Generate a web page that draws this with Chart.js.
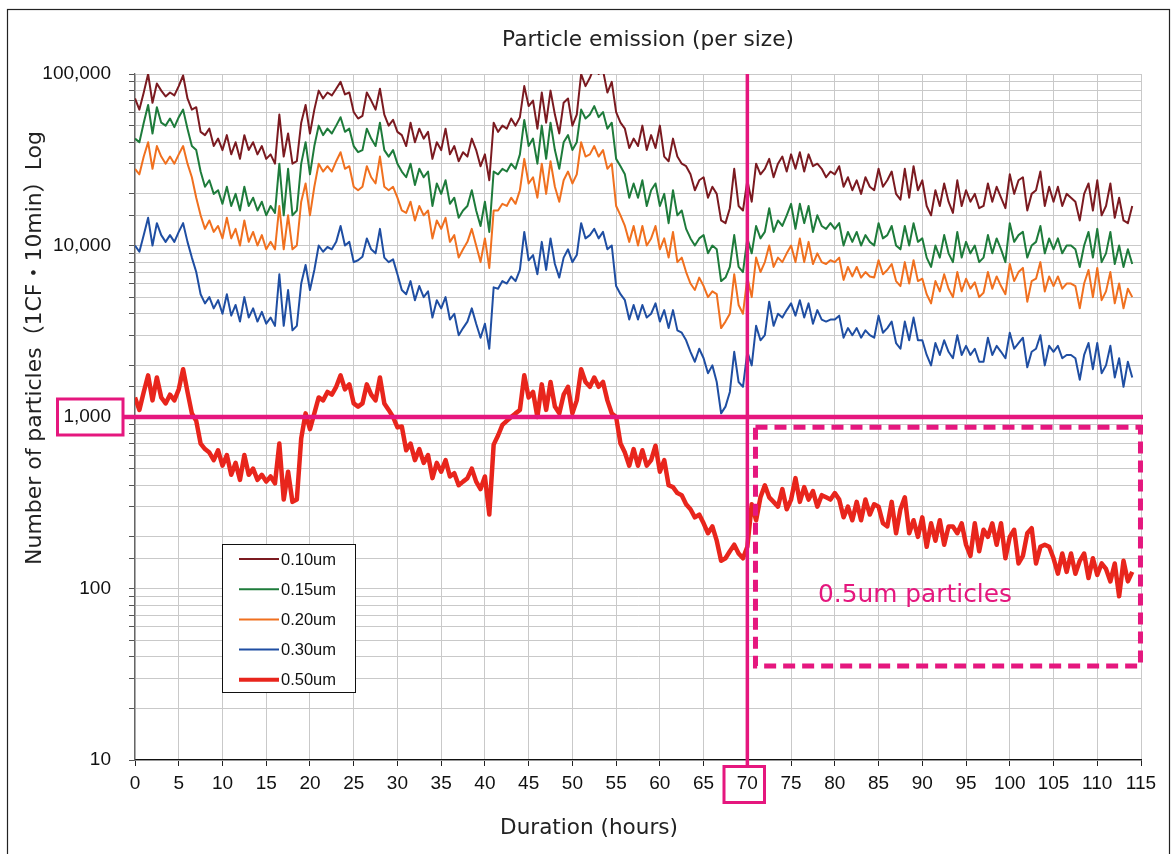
<!DOCTYPE html>
<html>
<head>
<meta charset="utf-8">
<script src="https://cdn.jsdelivr.net/npm/chart.js@4.4.1/dist/chart.umd.min.js"></script>
<style>
html,body{margin:0;padding:0;background:#fff;}
canvas{display:block;}
</style>
</head>
<body>
<canvas id="c" width="1174" height="854"></canvas>
<script>
// ---------------- data ----------------
const STEP_HOURS = 0.5; // sampling interval of the series below (hours)
const seriesLabels = ['0.10um', '0.15um', '0.20um', '0.30um', '0.50um'];
const xTickStep = 5;
const xMax = 115;
const yMin = 10, yMax = 100000;
const yTickLabels = {10: '10', 100: '100', 1000: '1,000', 10000: '10,000', 100000: '100,000'};
const REF_LEVEL = 1000;   // horizontal marker
const REF_HOUR = 70;      // vertical marker

const p010 = [
72000,62000,78000,100000,68000,88000,80000,74000,78000,75000,
85000,98000,72000,62000,64000,46000,44000,48000,38000,42000,
36000,44000,34000,40000,32000,44000,36000,40000,34000,38000,
32000,34000,30000,58000,33000,45000,30000,31000,52000,66000,
45000,62000,80000,72000,78000,75000,82000,90000,76000,78000,
60000,55000,57000,78000,70000,62000,82000,58000,50000,54000,
46000,44000,38000,52000,40000,48000,42000,46000,32000,40000,
36000,48000,34000,38000,31000,35000,33000,42000,36000,29000,
34000,24000,52000,46000,50000,48000,55000,50000,56000,85000,
65000,70000,48000,78000,52000,80000,58000,45000,68000,72000,
50000,58000,100000,85000,95000,110000,100000,105000,78000,90000,
60000,52000,48000,37000,42000,38000,50000,36000,44000,37000,
50000,33000,31000,42000,33000,30000,29000,26000,21000,24000,
25000,19000,22000,20000,14000,13500,16500,28000,17000,16000,
24000,18000,30000,26000,28000,32000,25000,30000,33000,27000,
34000,28000,35000,27000,34000,29000,30000,28000,25000,27000,
26000,29000,22000,25000,21000,24000,20000,25000,22000,21000,
28000,22000,24000,27000,20000,18500,28000,19000,29000,21000,
24000,17000,15000,21000,17000,23000,18000,15500,24000,17000,
21000,18000,20000,16500,17000,23000,18000,22000,19000,16500,
26000,20000,24000,25000,16000,20000,21000,27000,17000,22000,
18000,22000,17000,20000,19000,18000,14000,20000,23000,16000,
24000,15000,17000,23000,14500,19000,14000,13500,17000
];
const p015 = [
42000,40000,52000,66000,45000,64000,52000,50000,55000,49000,
56000,62000,48000,38000,36000,27000,22000,24000,20000,21000,
17500,22000,17000,20000,16000,22000,17000,19000,16000,18000,
15000,17000,15500,30000,15000,28000,15000,16000,30000,40000,
26000,38000,50000,44000,48000,45000,50000,56000,46000,48000,
38000,35000,36000,48000,42000,38000,52000,36000,33000,36000,
30000,27000,25000,30000,22500,28000,25000,27000,17000,23000,
20000,24000,17500,19000,14500,16000,17000,21000,16000,13000,
18000,12000,27000,26000,28000,27000,30000,28000,34000,54000,
38000,42000,30000,50000,32000,52000,36000,28000,40000,44000,
36000,40000,62000,55000,58000,65000,56000,60000,48000,52000,
32000,29000,26000,19000,23000,19000,24000,17000,21000,23000,
17000,20000,13500,21000,15000,16000,12500,11000,10000,11000,
11500,9000,10000,9500,6200,6500,7500,11500,7500,7000,
11000,9000,13000,11000,12000,16500,12000,14000,13000,15000,
17500,12500,17500,13500,17000,12000,15000,13000,12500,13500,
12500,13500,10000,12000,10500,12000,10000,11500,10500,10000,
13500,11000,11500,13000,10000,9500,13000,10000,13500,10500,
11000,8500,7500,10000,8500,11500,9000,8000,12000,8500,
10500,9000,10000,8000,8500,11500,9000,11000,9500,8000,
13500,10500,11500,12000,8500,10000,10500,13000,9000,11000,
9500,11000,9000,10000,10000,9500,7500,10000,12000,8500,
12500,8000,9000,12000,7800,10000,7500,9500,7800
];
const p020 = [
28000,26000,33000,40000,28000,38000,33000,30000,33000,30000,
34000,38000,30000,25000,19000,15000,12500,14000,12000,13000,
11000,14500,11000,12500,10000,14000,10500,12000,10000,11500,
9500,10500,9500,17000,9500,15000,9500,10000,18000,23000,
15000,22000,30000,27000,29000,27000,31000,35000,28000,29000,
22000,21000,22000,29000,25000,23000,33000,22000,21000,22000,
19000,16000,15500,18000,14000,17000,15000,16000,11000,14000,
12500,14500,10500,11500,8500,9500,10500,12500,10000,8000,
11000,7400,16000,16000,17500,17000,19000,17500,21000,32000,
23000,25000,19000,30000,20000,31000,22000,18000,24000,27000,
23000,26000,40000,33000,34000,38000,33000,36000,28000,30000,
17000,15000,13000,10500,13000,10000,13000,10000,11000,13000,
9500,11000,8500,12000,8000,8500,7000,6000,5500,6500,
5800,5000,5400,5200,3300,3600,4000,6800,4500,4000,
6500,5000,8500,7000,8000,10000,7500,8500,8000,9000,
10000,8000,11000,8000,10500,7800,9000,8000,7800,8200,
8000,8500,6300,7500,6600,7500,6500,7000,6600,6500,
8200,6800,7200,7800,6200,5800,8000,6000,8200,6200,
6400,5200,4600,6200,5400,6800,5600,5000,7000,5400,
6400,5600,6100,5000,5300,7000,5600,6600,5800,5200,
7800,6200,7000,7400,4700,6200,6400,8000,5400,6600,
5800,6600,5600,6000,6000,5800,4300,6000,7200,5000,
7400,4800,5400,7000,4600,6000,4300,5600,5000
];
const p030 = [
10000,9200,11500,14500,10000,13500,11500,10500,11500,10500,
12000,13500,10500,8500,7000,5200,4600,5000,4300,4800,
4000,5200,3900,4500,3600,5000,3800,4300,3600,4100,
3500,3800,3400,6800,3400,5500,3200,3400,6000,7700,
5500,7200,10000,9200,9800,9500,10500,13000,10000,10500,
8000,8200,8600,11000,9500,9000,12500,8500,8000,8300,
6800,5500,5200,6200,4800,5800,5000,5400,3800,4800,
4300,5000,3700,4000,3000,3300,3600,4300,3500,2900,
3500,2500,5700,5600,6200,6000,6600,6200,7200,12000,
8200,8800,6800,10500,7200,11000,7800,6500,8500,9500,
8000,8800,13500,11000,11500,12500,11000,12000,9500,10000,
5800,5200,4800,3700,4500,3700,4500,3800,4000,4600,
3600,4200,3300,4200,3200,3100,2800,2400,2100,2500,
2200,1800,2000,1600,1050,1150,1400,2400,1600,1500,
2400,2000,3400,2800,3000,4700,3400,4000,3800,4200,
4600,3900,4800,3800,4600,3500,4200,3700,3600,3700,
3700,3900,2900,3300,3000,3300,2900,3200,3000,2900,
3900,3100,3300,3600,2700,2500,3600,2800,3800,2800,
2800,2300,2000,2700,2300,2800,2400,2200,3000,2300,
2600,2300,2500,2100,2100,2900,2300,2600,2400,2200,
3100,2500,2700,2900,1950,2400,2500,3000,2000,2600,
2400,2600,2200,2300,2300,2200,1650,2300,2700,1900,
2700,1800,2000,2600,1700,2200,1500,2100,1700
];
const p050 = [
1300,1100,1400,1750,1250,1700,1300,1200,1350,1250,
1450,1900,1400,1050,950,700,650,620,560,640,
520,600,460,540,430,600,460,500,430,460,
420,450,410,700,330,480,320,330,750,1050,
850,1050,1300,1250,1400,1350,1500,1750,1450,1550,
1200,1150,1200,1550,1350,1250,1700,1200,1100,1000,
870,880,640,700,560,650,540,600,440,540,
480,560,450,470,400,420,440,500,420,380,
450,270,690,780,900,950,1000,1050,1100,1750,
1300,1400,1000,1550,1100,1600,1150,1050,1350,1500,
1050,1250,1900,1600,1500,1700,1500,1600,1250,1050,
1000,700,620,520,650,520,640,520,560,680,
480,560,400,390,360,350,310,290,260,270,
240,210,230,190,145,150,165,180,160,150,
175,310,250,340,400,340,320,300,380,290,
330,440,320,390,330,370,300,350,340,330,
360,330,260,300,250,320,250,330,270,310,
300,240,230,320,210,290,340,210,250,200,
260,175,240,190,250,180,230,230,210,240,
180,155,240,165,220,200,240,180,240,150,
200,220,140,155,210,225,140,175,180,175,
150,122,160,125,160,122,145,160,115,150,
120,140,130,110,140,90,145,110,125
];

const seriesValues = [p010, p015, p020, p030, p050];
const seriesColors = ['#7b1a20', '#1e7b3b', '#f0701f', '#1f4ea2', '#e8251c'];
const seriesWidths = [2, 2, 2, 2, 4.5];

// ---------------- chart ----------------
const MAGENTA = '#e5177e';
const TITLE_FAMILY = '"DejaVu Sans", "Noto Sans CJK JP", sans-serif';
const toPoints = vals => vals.map((v, i) => ({x: i * STEP_HOURS, y: v}));

const datasets = seriesValues.map((vals, i) => ({
  label: seriesLabels[i],
  data: toPoints(vals),
  borderColor: seriesColors[i],
  backgroundColor: seriesColors[i],
  borderWidth: seriesWidths[i],
  pointRadius: 0,
  tension: 0,
  borderJoinStyle: 'round',
  fill: false
}));

// draw text centred at (0,0) of current transform, sized to a target width
function fitText(ctx, text, width, family, weight) {
  ctx.font = `${weight} 20px ${family}`;
  const w = ctx.measureText(text).width;
  const size = 20 * width / w;
  ctx.font = `${weight} ${size.toFixed(2)}px ${family}`;
  ctx.fillText(text, 0, 0);
}

const overlay = {
  id: 'overlay',
  beforeDraw(chart) {
    const ctx = chart.ctx;
    ctx.save();
    ctx.fillStyle = '#fff';
    ctx.fillRect(0, 0, chart.width, chart.height);
    ctx.restore();
  },
  afterDatasetsDraw(chart) {
    const {ctx, chartArea: a, scales: {x, y}} = chart;
    const yRef = y.getPixelForValue(REF_LEVEL);
    const xRef = x.getPixelForValue(REF_HOUR);
    ctx.save();
    ctx.strokeStyle = MAGENTA;
    ctx.lineCap = 'butt';
    // horizontal 1,000 line
    ctx.lineWidth = 4.5;
    ctx.beginPath(); ctx.moveTo(124, yRef); ctx.lineTo(a.right + 2, yRef); ctx.stroke();
    // vertical 70 h line
    ctx.lineWidth = 3.5;
    ctx.beginPath(); ctx.moveTo(xRef, a.top); ctx.lineTo(xRef, 766); ctx.stroke();
    // boxes around tick labels
    ctx.lineWidth = 3;
    ctx.strokeRect(57.5, yRef - 18, 65.5, 36);
    ctx.strokeRect(724, 766.5, 40.5, 36);
    // dashed rectangle around 0.5um region
    const rx0 = x.getPixelForValue(70.93), rx1 = x.getPixelForValue(114.94);
    const ry0 = y.getPixelForValue(870), ry1 = y.getPixelForValue(35.3);
    ctx.setLineDash([12, 7]);
    ctx.lineWidth = 5;
    ctx.strokeRect(rx0, ry0, rx1 - rx0, ry1 - ry0);
    ctx.setLineDash([]);
    // annotation text
    ctx.fillStyle = MAGENTA;
    ctx.textAlign = 'center';
    ctx.textBaseline = 'alphabetic';
    ctx.save();
    ctx.translate(915, 602);
    fitText(ctx, '0.5um particles', 194, TITLE_FAMILY, 'normal');
    ctx.restore();
    ctx.restore();
  },
  afterDraw(chart) {
    const ctx = chart.ctx;
    ctx.save();
    // legend box
    ctx.fillStyle = '#fff';
    ctx.fillRect(222, 544, 133, 148);
    ctx.strokeStyle = '#111';
    ctx.lineWidth = 1;
    ctx.strokeRect(222.5, 544.5, 133, 148);
    chart.data.datasets.forEach((ds, i) => {
      const yy = 559 + i * 30.2;
      ctx.strokeStyle = ds.borderColor;
      ctx.lineWidth = ds.borderWidth > 3 ? 4 : 2;
      ctx.beginPath(); ctx.moveTo(239, yy); ctx.lineTo(279, yy); ctx.stroke();
      ctx.fillStyle = '#111';
      ctx.font = '16.5px "Liberation Sans", Arial, sans-serif';
      ctx.textAlign = 'left';
      ctx.textBaseline = 'middle';
      ctx.fillText(ds.label, 281, yy + 1);
    });
    // titles
    ctx.fillStyle = '#222';
    ctx.textAlign = 'center';
    ctx.textBaseline = 'middle';
    ctx.save(); ctx.translate(648, 40);
    fitText(ctx, 'Particle emission (per size)', 292, TITLE_FAMILY, 'normal');
    ctx.restore();
    ctx.save(); ctx.translate(589, 828);
    fitText(ctx, 'Duration (hours)', 178, TITLE_FAMILY, 'normal');
    ctx.restore();
    ctx.save();
    ctx.translate(35, 348);
    ctx.rotate(-Math.PI / 2);
    fitText(ctx, 'Number of particles（1CF・10min）Log', 434, TITLE_FAMILY, 'normal');
    ctx.restore();
    // outer frame
    ctx.strokeStyle = '#222';
    ctx.lineWidth = 1.2;
    ctx.strokeRect(7.5, 9.5, 1162, 900);
    ctx.restore();
  }
};

const tickFont = {family: '"Liberation Sans", Arial, sans-serif', size: 19};

new Chart(document.getElementById('c'), {
  type: 'line',
  data: {datasets},
  options: {
    responsive: false,
    animation: false,
    devicePixelRatio: 1,
    layout: {padding: {top: 74, right: 33, bottom: 0, left: 0}},
    plugins: {legend: {display: false}, title: {display: false}, tooltip: {enabled: false}},
    scales: {
      x: {
        type: 'linear',
        min: 0, max: xMax,
        afterFit(s) { s.height = 94; },
        ticks: {stepSize: xTickStep, autoSkip: false, maxRotation: 0, font: tickFont, color: '#111', padding: 6},
        grid: {color: '#c9c9c9', lineWidth: 1, tickLength: 6, tickColor: '#222'},
        border: {color: '#111', width: 1.3}
      },
      y: {
        type: 'logarithmic',
        min: yMin, max: yMax,
        afterFit(s) { s.width = 135; },
        ticks: {
          autoSkip: false, font: tickFont, color: '#111', padding: 18,
          callback: (v) => yTickLabels[v] !== undefined ? yTickLabels[v] : ''
        },
        grid: {color: '#c9c9c9', lineWidth: 1, tickLength: 6, tickColor: '#555'},
        border: {color: '#666', width: 1.3}
      }
    }
  },
  plugins: [overlay]
});
</script>
</body>
</html>
